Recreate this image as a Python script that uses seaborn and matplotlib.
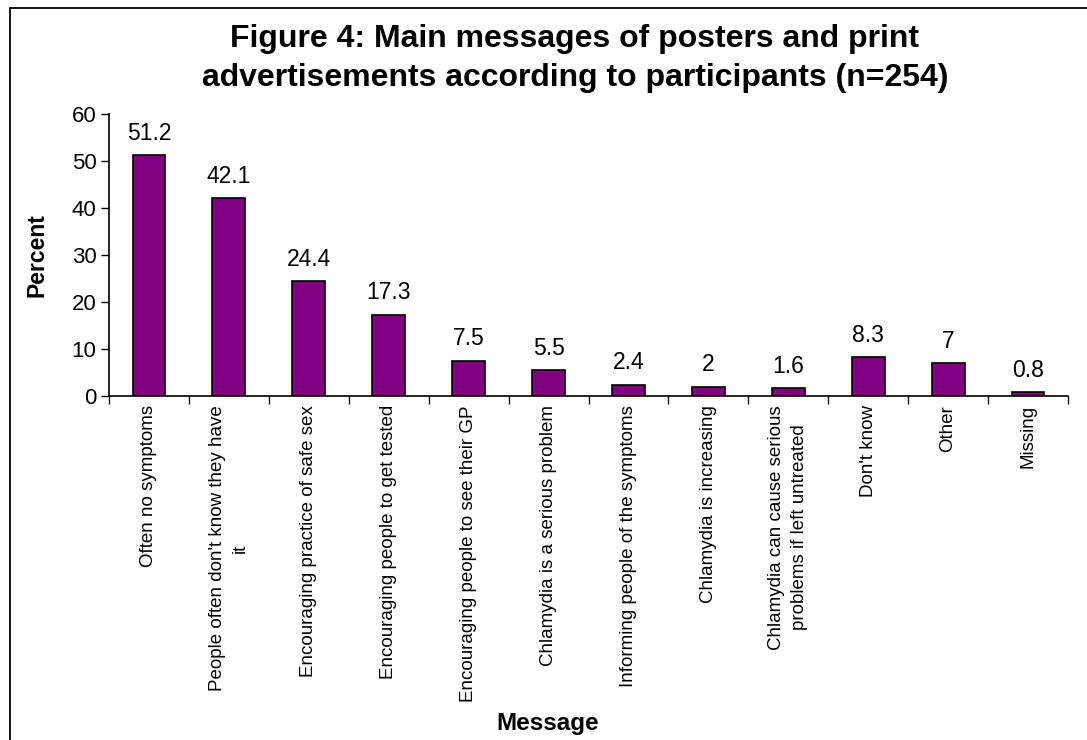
import matplotlib
matplotlib.use("Agg")
import matplotlib.pyplot as plt
import seaborn as sns
import pandas as pd
from matplotlib.lines import Line2D

# Chart values
messages = [
    "Often no symptoms",
    "People often don't know they have\nit",
    "Encouraging practice of safe sex",
    "Encouraging people to get tested",
    "Encouraging people to see their GP",
    "Chlamydia is a serious problem",
    "Informing people of the symptoms",
    "Chlamydia is increasing",
    "Chlamydia can cause serious\nproblems if left untreated",
    "Don't know",
    "Other",
    "Missing",
]
percent = [51.2, 42.1, 24.4, 17.3, 7.5, 5.5, 2.4, 2, 1.6, 8.3, 7, 0.8]
value_labels = ["51.2", "42.1", "24.4", "17.3", "7.5", "5.5", "2.4", "2", "1.6", "8.3", "7", "0.8"]

df = pd.DataFrame({"Message": messages, "Percent": percent})

sns.set_style("white")
plt.rcParams["font.family"] = ["Liberation Sans", "DejaVu Sans"]
plt.rcParams.update({"text.color": "black", "axes.labelcolor": "black",
                     "xtick.color": "black", "ytick.color": "black"})

W, H = 1087, 740
fig = plt.figure(figsize=(W / 100, H / 100), dpi=100)
# axes box in pixels: left 109, right 1068, top 114, bottom 396
ax = fig.add_axes([109 / W, 1 - 396 / H, (1068 - 109) / W, (396 - 114) / H])

sns.barplot(data=df, x="Message", y="Percent", color="#800080", saturation=1,
            width=0.41, edgecolor="black", linewidth=1.2, ax=ax)

# value labels above bars
for i, (v, lab) in enumerate(zip(percent, value_labels)):
    ax.annotate(lab, (i, v), xytext=(0, 11), textcoords="offset points",
                ha="center", va="baseline", fontsize=16.5)

ax.set_ylim(0, 60)
ax.set_yticks(range(0, 61, 10))
ax.set_xlim(-0.5, len(messages) - 0.5)

# ticks at category boundaries as in Excel
ax.set_xticks([i + 0.5 for i in range(-1, len(messages))], minor=True)
ax.tick_params(axis="x", which="minor", direction="out", length=6, width=1, bottom=True)
ax.tick_params(axis="x", which="major", length=0, pad=6.5)
ax.tick_params(axis="y", direction="out", length=6, width=1, left=True, labelsize=16, pad=3)
ax.set_xticks(range(len(messages)))
ax.set_xticklabels(messages, rotation=90, ha="center", va="top", fontsize=13.5,
                   multialignment="center", linespacing=1.45)

sns.despine(ax=ax)
for side in ["left", "bottom"]:
    ax.spines[side].set_color("black")
    ax.spines[side].set_linewidth(1.2)

ax.set_xlabel("")
ax.set_ylabel("Percent", fontsize=16.5, fontweight="bold", labelpad=17)
fig.text(548 / W, 1 - 730 / H, "Message", ha="center", va="baseline", fontsize=17.5, fontweight="bold")

# two-line title, placed by baseline
fig.text(575 / W, 1 - 47 / H, "Figure 4: Main messages of posters and print",
         ha="center", va="baseline", fontsize=23, fontweight="bold")
fig.text(575 / W, 1 - 86 / H, "advertisements according to participants (n=254)",
         ha="center", va="baseline", fontsize=23, fontweight="bold")

# chart frame (left and top edges visible, the rest cut off)
fig.lines.append(Line2D([9.5 / W, 9.5 / W], [0, 1 - 7.5 / H], transform=fig.transFigure,
                        color="black", linewidth=1.3))
fig.lines.append(Line2D([9.5 / W, 1], [1 - 7.5 / H, 1 - 7.5 / H], transform=fig.transFigure,
                        color="black", linewidth=1.3))

fig.savefig("out.png", dpi=100)
